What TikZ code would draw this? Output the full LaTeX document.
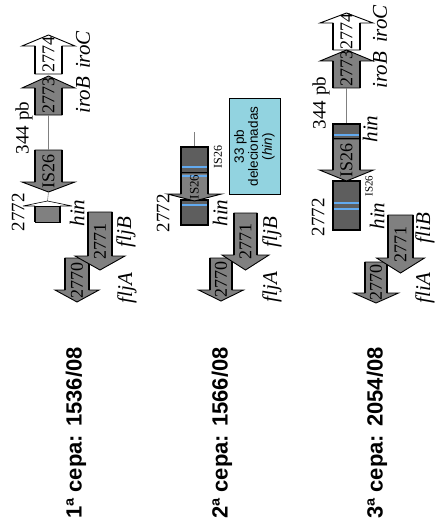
\documentclass[tikz,border=0pt]{standalone}
\usepackage{fontspec}
\setmainfont{Liberation Serif}
\setsansfont{Liberation Sans}
\definecolor{genegray}{HTML}{808080}
\definecolor{darkbox}{HTML}{5E5E5E}
\definecolor{stripeblue}{HTML}{62AAF0}
\definecolor{boxcyan}{HTML}{92D3E0}
\tikzset{
  outl/.style={draw=black, line width=0.9pt, line join=miter},
  side/.style={line width=2.2pt},
  inlab/.style={rotate=90, font=\fontsize{18}{18}\selectfont, inner sep=0pt},
  itlab/.style={rotate=90, font=\fontsize{21}{21}\selectfont\itshape, inner sep=0pt},
  uplab/.style={rotate=90, font=\fontsize{19}{19}\selectfont, inner sep=0pt},
  smalllab/.style={rotate=90, font=\fontsize{11}{11}\selectfont, inner sep=0pt},
  cepa/.style={rotate=90, font=\sffamily\bfseries\fontsize{22}{22}\selectfont, inner sep=0pt},
  darkrect/.style={draw=black, fill=darkbox, line width=1.2pt},
  stripe/.style={draw=stripeblue, line width=2pt},
  link/.style={draw=gray, line width=0.6pt},
}
% #1 name, #2 x centre, #3 y back, #4 y head base, #5 y tip, #6 shaft half width, #7 head half width, #8 fill
\newcommand\genarrow[8]{%
  \coordinate (#1-back) at (#2,#3);
  \coordinate (#1-tip) at (#2,#5);
  \coordinate (#1) at (#2,{(#3+#5)/2});
  \filldraw[outl, fill=#8] (#2-#6,#3) -- (#2-#6,#4) -- (#2-#7,#4) -- (#1-tip) -- (#2+#7,#4) -- (#2+#6,#4) -- (#2+#6,#3) -- cycle;
  \draw[side] (#2-#6,#3) -- (#2-#6,#4) (#2+#6,#3) -- (#2+#6,#4);
}
\begin{document}
\begin{tikzpicture}[x=1pt,y=-1pt]
\useasboundingbox (0,0) rectangle (434,532);

% ---------- column 1 ----------
\genarrow{c1iroC}{48.5}{74}{46}{35}{13.5}{26.5}{white}
\genarrow{c1iroB}{48.5}{115}{88}{76}{13.5}{26.5}{genegray}
\genarrow{c1is}{48.5}{150}{182}{192}{13.5}{26.5}{genegray}
\draw[link] (c1iroB-back) -- (c1is-back);
\coordinate (c1hin) at (47.5,201);
\draw[link] (c1is-tip) -- (c1hin);
\filldraw[outl, fill=genegray] (35,206) rectangle (60,222);
\draw[side] (35,206) -- (35,222) (60,206) -- (60,222);
\draw[line width=0.6pt] (23,206) -- (35,206) (60,206) -- (72,206)
  (23,206) -- (c1hin) -- (72,206);
\genarrow{c1fljA}{77}{258}{290}{302}{12}{22}{genegray}
\genarrow{c1fljB}{100}{212}{256}{270}{12}{25}{genegray}

\node[inlab] (l1a) at (c1iroC) {2774};
\node[inlab] (l1b) at (c1iroB) {2773};
\node[inlab] (l1c) at (c1is) {IS26};
\node[inlab] (l1d) at (c1fljB) {2771};
\node[inlab] (l1e) at (c1fljA) {2770};
\node[itlab] (t1a) at (83,50) {iroC};
\node[itlab] (t1b) at (83,95) {iroB};
\node[uplab] (t1c) at (24,128) {344 pb};
\node[uplab] (t1d) at (18,212) {2772};
\node[itlab] (t1e) at (77,213) {hin};
\node[itlab] (t1f) at (126,232) {fljB};
\node[itlab] (t1g) at (127,288) {fljA};

% ---------- column 2 ----------
\coordinate (c2top) at (194.5,132);
\coordinate (c2rect) at (194.5,147);
\draw[link] (c2top) -- (c2rect);
\filldraw[darkrect] (181,147) rectangle (208,173);
\draw[stripe] (182,167) -- (207,167);
\filldraw[darkrect] (181,200) rectangle (208,225);
\draw[stripe] (182,205) -- (207,205);
\genarrow{c2is}{194.5}{173}{194}{201}{13.5}{27}{genegray}
\draw[stripe] (182,176) -- (207,176);
\node[rotate=90, font=\fontsize{13}{13}\selectfont, inner sep=0pt] (l2c) at (c2is) {IS26};
\genarrow{c2fljA}{221}{258}{290}{301}{11}{22.5}{genegray}
\genarrow{c2fljB}{245.5}{213}{255}{270}{11.5}{23.5}{genegray}
\node[inlab] (l2d) at (c2fljB) {2771};
\node[inlab] (l2e) at (c2fljA) {2770};
\node[smalllab, font=\fontsize{12}{12}\selectfont] (t2a) at (218,157) {IS26};
\node[uplab] (t2b) at (163,213) {2772};
\node[itlab] (t2c) at (220,213) {hin};
\node[itlab] (t2d) at (272,232) {fljB};
\node[itlab] (t2e) at (272,287) {fljA};
\node[draw=black, line width=1pt, fill=boxcyan, rotate=90, minimum width=95pt, minimum height=51pt,
      inner sep=0pt, align=center, font=\sffamily\fontsize{13.5}{14}\selectfont] (box) at (254.5,146.5)
      {33 pb\\delecionadas\\(\textit{hin})};

% ---------- column 3 ----------
\genarrow{c3iroC}{346.5}{50}{23}{13}{13.5}{26.5}{white}
\genarrow{c3iroB}{346.5}{88}{61}{50}{13.5}{26.5}{genegray}
\coordinate (c3rect) at (346.5,124);
\draw[link] (c3iroB-back) -- (c3rect);
\filldraw[darkrect] (333,124) rectangle (360,139);
\draw[stripe] (334,135) -- (359,135);
\filldraw[darkrect] (333,181) rectangle (360,230);
\draw[stripe] (334,203) -- (359,203);
\draw[stripe] (334,209) -- (359,209);
\genarrow{c3is}{346.5}{139}{170}{181}{13.5}{27}{genegray}
\genarrow{c3fliA}{376}{262}{293}{303}{11}{22.5}{genegray}
\genarrow{c3fliB}{400.5}{215}{258}{273}{12.5}{24}{genegray}

\node[inlab] (l3a) at (c3iroC) {2774};
\node[inlab] (l3b) at (c3iroB) {2773};
\node[inlab] (l3c) at (c3is) {IS26};
\node[inlab] (l3d) at (c3fliB) {2771};
\node[inlab] (l3e) at (c3fliA) {2770};
\node[itlab] (t3a) at (380,24) {iroC};
\node[itlab] (t3b) at (380,70) {iroB};
\node[uplab] (t3c) at (321,103) {344 pb};
\node[itlab] (t3d) at (370,129) {hin};
\node[smalllab] (t3e) at (369,186) {IS26};
\node[itlab] (t3f) at (377,216) {hin};
\node[uplab] (t3g) at (318,217) {2772};
\node[itlab] (t3h) at (425,228) {fliB};
\node[itlab] (t3i) at (425,288) {fliA};

% ---------- strain labels ----------
\node[cepa] (s1) at (76,433) {1ª cepa: 1536/08};
\node[cepa] (s2) at (222,433) {2ª cepa: 1566/08};
\node[cepa] (s3) at (377,433) {3ª cepa: 2054/08};
\end{tikzpicture}
\end{document}
